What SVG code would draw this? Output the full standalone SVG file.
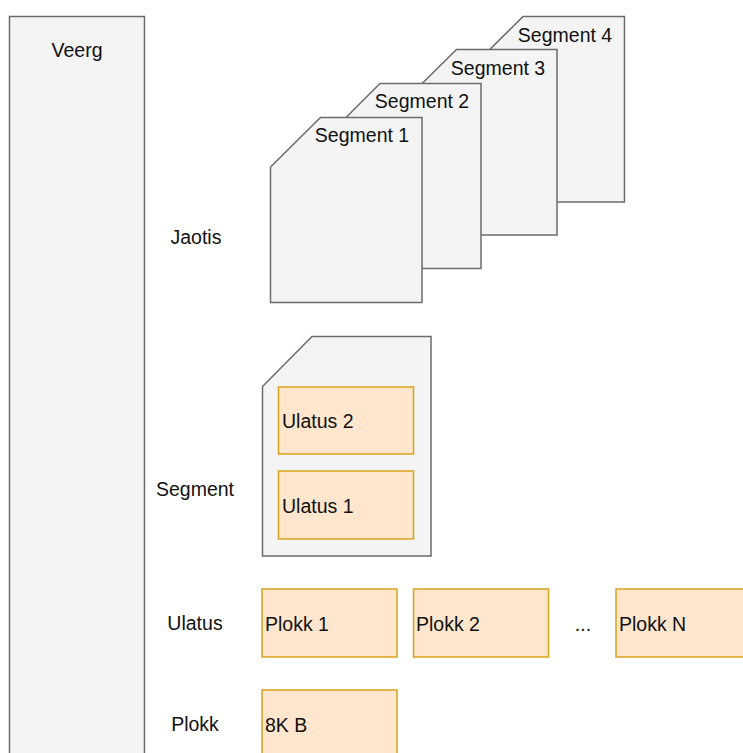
<svg xmlns="http://www.w3.org/2000/svg" width="743" height="753" viewBox="0 0 743 753">
  <style>
    .grey { fill: #f4f4f4; stroke: #6b6b6b; stroke-width: 1.5; }
    .orange { fill: #ffe6cc; stroke: #d9a21b; stroke-width: 1.5; }
    text { font-family: "Liberation Sans", Arial, Helvetica, sans-serif; font-size: 19.5px; fill: #111; }
    .c { text-anchor: middle; }
  </style>

  <rect width="743" height="753" fill="#ffffff"/>

  <!-- Veerg column -->
  <g id="veerg">
    <rect class="grey" x="9.5" y="16.5" width="135" height="760"/>
    <text class="c" x="77" y="57">Veerg</text>
  </g>

  <!-- Row labels -->
  <g id="row-labels">
    <text class="c" x="196" y="244">Jaotis</text>
    <text class="c" x="195" y="496">Segment</text>
    <text class="c" x="195" y="630">Ulatus</text>
    <text class="c" x="195" y="731">Plokk</text>
  </g>

  <!-- Stacked segment cards (back to front) -->
  <g id="segment-4">
    <path class="grey" d="M473 66 L523 16.5 L624.5 16.5 L624.5 202 L473 202 Z"/>
    <text class="c" x="565" y="42">Segment 4</text>
  </g>
  <g id="segment-3">
    <path class="grey" d="M406.5 99 L456.5 49.5 L557 49.5 L557 235 L406.5 235 Z"/>
    <text class="c" x="498" y="75">Segment 3</text>
  </g>
  <g id="segment-2">
    <path class="grey" d="M330.5 133 L380 83.5 L481 83.5 L481 268.5 L330.5 268.5 Z"/>
    <text class="c" x="422" y="108">Segment 2</text>
  </g>
  <g id="segment-1">
    <path class="grey" d="M270.5 167 L320.5 117.5 L422 117.5 L422 302.5 L270.5 302.5 Z"/>
    <text class="c" x="362" y="142">Segment 1</text>
  </g>

  <!-- Segment made of extents -->
  <g id="segment">
    <path class="grey" d="M262.5 386.5 L312 336.5 L431 336.5 L431 556 L262.5 556 Z"/>
  </g>
  <g id="ulatus-2">
    <rect class="orange" x="278.5" y="387" width="135" height="67"/>
    <text x="282" y="428">Ulatus 2</text>
  </g>
  <g id="ulatus-1">
    <rect class="orange" x="278.5" y="471" width="135" height="68"/>
    <text x="282" y="513">Ulatus 1</text>
  </g>

  <!-- Extent made of blocks -->
  <g id="plokk-1">
    <rect class="orange" x="262" y="589" width="135" height="68"/>
    <text x="265" y="631">Plokk 1</text>
  </g>
  <g id="plokk-2">
    <rect class="orange" x="413.5" y="589" width="135" height="68"/>
    <text x="416" y="631">Plokk 2</text>
  </g>
  <g id="ellipsis">
    <text class="c" x="583" y="631">...</text>
  </g>
  <g id="plokk-n">
    <rect class="orange" x="616" y="589" width="140" height="68"/>
    <text x="619" y="631">Plokk N</text>
  </g>

  <!-- Block size -->
  <g id="plokk-size">
    <rect class="orange" x="262" y="690" width="135" height="80"/>
    <text x="265" y="732">8K B</text>
  </g>

  <g id="connectors"/>
</svg>
